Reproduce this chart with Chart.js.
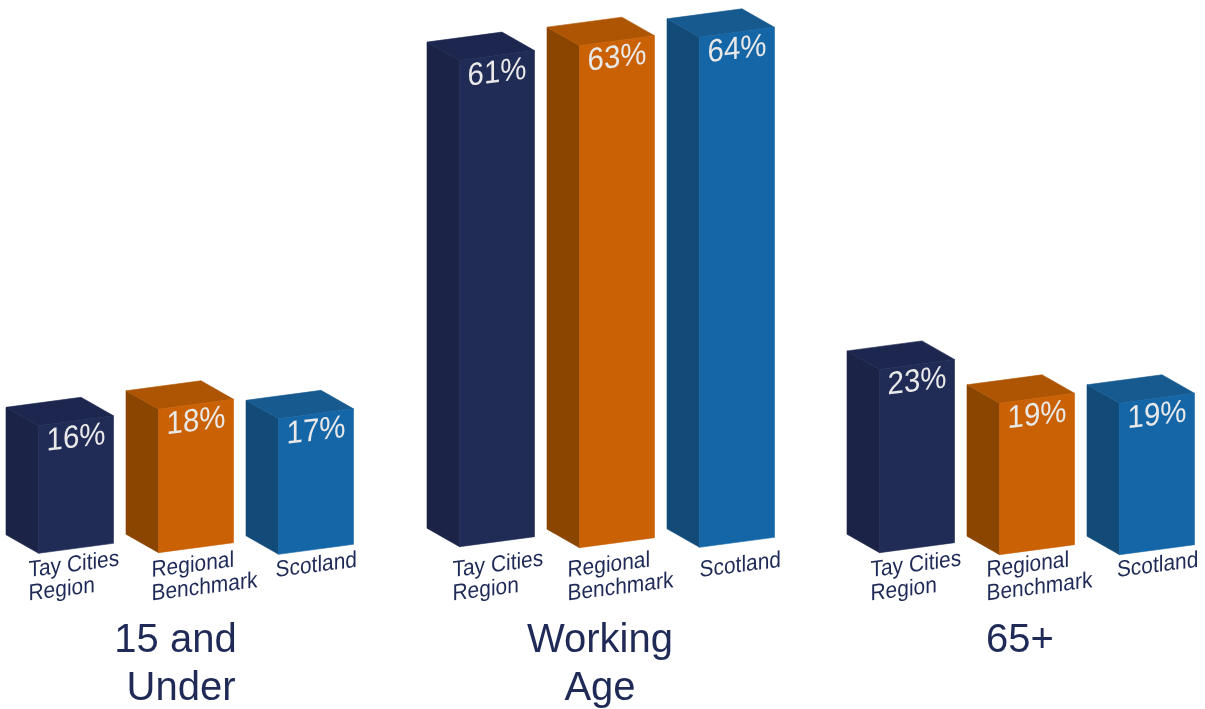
<!DOCTYPE html>
<html>
<head>
<meta charset="utf-8">
<title>Population by age group</title>
<script src="https://cdn.jsdelivr.net/npm/chart.js@4/dist/chart.umd.min.js"></script>
<style>
	html, body { margin: 0; padding: 0; background: #fff; overflow: hidden; }
	#wrap { position: relative; width: 1205px; height: 709px; }
</style>
</head>
<body>
<div id="wrap"><canvas id="chart"></canvas></div>
<script>
const ageGroups = [['15 and', 'Under'], ['Working', 'Age'], ['65+']];
const areaNames = ['Tay Cities Region', 'Regional Benchmark', 'Scotland'];
const areaLabelLines = [['Tay Cities', 'Region'], ['Regional', 'Benchmark'], ['Scotland']];

const tayCities = [16, 61, 23];
const regionalBenchmark = [18, 63, 19];
const scotland = [17, 64, 19];

// depth of the box, going up and to the left of the front face
const SIDE_X = -32.5;
const SIDE_Y = -18.5;
// the front face runs uphill to the right by this much
const SLOPE = 10 / 75;
const FONT = '"Liberation Sans", Arial, sans-serif';
const TEXT_NAVY = '#1f2a57';

// small per-bar offsets of the drawing, by dataset then group
const groupNudgeX = [-1, 0, 0];
const baseNudge = [[0.3, -6.3, -0.3], [-0.3, -5.3, 1.7], [1.3, -5.7, 1.7]];
const labelNudgeX = [[-10, -7, -9], [-7, -12, -13], [-3, 0, -2.6]];
const titleLineX = [[175.5, 181], [600, 600], [1020]];

const fillPoly = (ctx, color, pts) => {
	ctx.fillStyle = color;
	ctx.strokeStyle = color;
	ctx.lineWidth = 0.6;
	ctx.lineJoin = 'round';
	ctx.beginPath();
	pts.forEach((p, i) => (i ? ctx.lineTo(p[0], p[1]) : ctx.moveTo(p[0], p[1])));
	ctx.closePath();
	ctx.fill();
	// thin stroke closes the hairline between neighbouring faces
	ctx.stroke();
};

const skewedText = (ctx, text, x, y, slope, scaleX) => {
	ctx.save();
	ctx.transform(scaleX, -slope, 0, 1, x, y);
	ctx.fillText(text, 0, 0);
	ctx.restore();
};

const boxBarsPlugin = {
	id: 'boxBars',
	// replaces the flat rectangles with boxes built from the bar elements
	beforeDatasetDraw(chart, args) {
		const { ctx } = chart;
		const dataset = chart.data.datasets[args.index];
		const meta = args.meta;

		meta.data.forEach((bar, g) => {
			const { x, y, base, width } = bar.getProps(['x', 'y', 'base', 'width']);
			const dy = baseNudge[args.index][g];
			const left = x - width / 2 + groupNudgeX[g];
			const right = left + width;
			const rise = width * SLOPE;
			const top = y + dy;
			const bottom = base + dy;

			fillPoly(ctx, dataset.sideColor, [
				[left + SIDE_X, top + SIDE_Y],
				[left, top],
				[left, bottom],
				[left + SIDE_X, bottom + SIDE_Y],
			]);
			fillPoly(ctx, dataset.topColor, [
				[left + SIDE_X, top + SIDE_Y],
				[left + SIDE_X + width, top + SIDE_Y - rise],
				[right, top - rise],
				[left, top],
			]);
			fillPoly(ctx, dataset.backgroundColor, [
				[left, top],
				[right, top - rise],
				[right, bottom - rise],
				[left, bottom],
			]);

			// value painted on the front face
			ctx.save();
			ctx.font = '32px ' + FONT;
			ctx.textAlign = 'center';
			ctx.textBaseline = 'alphabetic';
			ctx.fillStyle = '#e9e9e9';
			skewedText(ctx, dataset.data[g] + '%', left + width / 2, top + 21.5, 0.11, 0.92);
			ctx.restore();

			// area name under the bar
			ctx.save();
			ctx.font = '23px ' + FONT;
			ctx.textAlign = 'left';
			ctx.textBaseline = 'alphabetic';
			ctx.fillStyle = TEXT_NAVY;
			areaLabelLines[args.index].forEach((line, l) => {
				skewedText(ctx, line, left + labelNudgeX[args.index][g], 577 + l * 23.5, 0.115, 0.91);
			});
			ctx.restore();
		});
		return false;
	},
	afterDraw(chart) {
		const { ctx } = chart;
		ctx.save();
		ctx.font = '40px ' + FONT;
		ctx.textAlign = 'center';
		ctx.textBaseline = 'alphabetic';
		ctx.fillStyle = TEXT_NAVY;
		ageGroups.forEach((lines, g) => {
			lines.forEach((line, l) => {
				ctx.fillText(line, titleLineX[g][l], 651.5 + l * 48);
			});
		});
		ctx.restore();
	}
};

const data = {
	labels: ageGroups.map(lines => lines.join(' ')),
	datasets: [
		{
			label: areaNames[0],
			data: tayCities,
			backgroundColor: '#202b56',
			sideColor: '#1b2347',
			topColor: '#1c264e',
		},
		{
			label: areaNames[1],
			data: regionalBenchmark,
			backgroundColor: '#ca6205',
			sideColor: '#8a4500',
			topColor: '#ad5503',
		},
		{
			label: areaNames[2],
			data: scotland,
			backgroundColor: '#1566a7',
			sideColor: '#124a78',
			topColor: '#175a90',
		},
	]
};

const config = {
	type: 'bar',
	data: data,
	options: {
		responsive: true,
		maintainAspectRatio: false,
		animation: false,
		categoryPercentage: 360 / 420,
		barPercentage: 75 / 120,
		layout: {
			padding: { left: 197, right: 168, top: 43, bottom: 156 }
		},
		plugins: {
			legend: {
				display: false,
			},
			title: {
				display: false,
			},
			tooltip: {
				enabled: false,
			}
		},
		scales: {
			x: {
				display: false,
				offset: false,
			},
			y: {
				display: false,
				min: 0,
				max: 64,
			}
		}
	},
	plugins: [boxBarsPlugin],
};

const canvas = document.getElementById('chart');
new Chart(canvas.getContext('2d'), config);
</script>
</body>
</html>
